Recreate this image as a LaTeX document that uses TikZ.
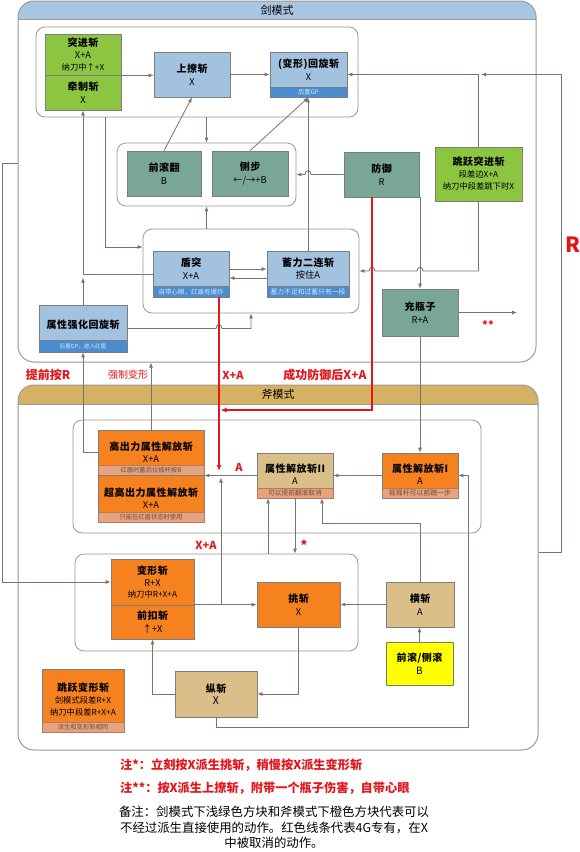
\documentclass[tikz,border=0pt]{standalone}
\usepackage{fontspec}
\setmainfont{Noto Sans CJK SC}
\newfontfamily\titf{Noto Sans CJK SC}[LetterSpace=5]
\usetikzlibrary{arrows.meta}
\definecolor{bluebx}{HTML}{A3C2DF}
\definecolor{bandbc}{HTML}{4A8ED0}
\definecolor{bandbt}{HTML}{D5E6F6}
\definecolor{tealbx}{HTML}{7AA696}
\definecolor{greenbx}{HTML}{8CC540}
\definecolor{orangebx}{HTML}{F6821F}
\definecolor{tanbx}{HTML}{DAC088}
\definecolor{salmon}{HTML}{E6A37E}
\definecolor{salmond}{HTML}{B07B60}
\definecolor{salmont}{HTML}{6E4B3C}
\definecolor{yellowbx}{HTML}{FFFF00}
\definecolor{hdrblue}{HTML}{A8C6E1}
\definecolor{hdrgold}{HTML}{D5B163}
\definecolor{panelc}{HTML}{9E9893}
\definecolor{arrc}{HTML}{7E726E}
\definecolor{redc}{HTML}{E3161B}
\definecolor{bordc}{HTML}{7D7D7D}
\newcommand\tb{\titf\bfseries\fontsize{10}{11}\selectfont}
\newcommand\ts{\fontsize{9.3}{10}\selectfont}
\newcommand\tss{\fontsize{8.3}{9}\selectfont}
\newcommand\mkbox[7]{\node[#2, minimum width={#5-#3}, minimum height={#6-#4}] (#1) at ({(#3+#5)/2},{(#4+#6)/2}) {#7};}
\begin{document}
\begin{tikzpicture}[x=1pt,y=-1pt,
  bx/.style={draw=bordc, line width=0.7pt, inner sep=0pt, align=center, text=black, font=\fontsize{8}{12.5}\selectfont},
  bbox/.style={bx, fill=bluebx},
  tbox/.style={bx, fill=tealbx},
  gbox/.style={bx, fill=greenbx},
  obox/.style={bx, fill=orangebx},
  nbox/.style={bx, fill=tanbx},
  ybox/.style={bx, fill=yellowbx},
  grp/.style={draw=panelc, line width=0.8pt, rounded corners=9pt, inner sep=0pt},
  panel/.style={draw=panelc, line width=1pt, rounded corners=16pt, inner sep=0pt},
  bandb/.style={draw=bordc, line width=0.4pt, fill=bandbc, text=bandbt, inner sep=0pt, font=\fontsize{6.5}{7}\selectfont},
  bands/.style={draw=salmond, line width=0.4pt, fill=salmon, text=salmont, inner sep=0pt, font=\fontsize{6.3}{7}\selectfont},
  txt/.style={inner sep=0pt, align=center, font=\fontsize{8}{12.5}\selectfont},
  arr/.style={draw=arrc, line width=0.8pt, -{Latex[length=5pt,width=4pt]}},
  rarr/.style={draw=redc, line width=1.5pt, -{Latex[length=6pt,width=5pt]}},
  lab/.style={text=redc, inner sep=0pt, font=\bfseries\fontsize{11}{12}\selectfont},
]
\useasboundingbox (0,0) rectangle (580,852);
\fill[white] (0,0) rectangle (580,852);

% ---------- panels ----------
\begin{scope}
\clip[rounded corners=16pt] (18,1) rectangle (536,362);
\fill[hdrblue] (18,1) rectangle (536,19);
\end{scope}
\mkbox{sword}{panel}{18}{1}{536}{362}{}
\draw[panelc, line width=0.8pt] (18,19) -- (536,19);
\node[inner sep=0pt, font=\fontsize{11}{12}\selectfont] (swordt) at (277,10) {剑模式};

\begin{scope}
\clip[rounded corners=16pt] (18,385) rectangle (538,750);
\fill[hdrgold] (18,385) rectangle (538,404);
\end{scope}
\mkbox{axe}{panel}{18}{385}{538}{750}{}
\draw[panelc, line width=0.8pt] (18,404) -- (538,404);
\node[inner sep=0pt, font=\fontsize{11}{12}\selectfont] (axet) at (278,394) {斧模式};

% ---------- groups ----------
\mkbox{g1}{grp}{36}{27}{358}{117}{}
\mkbox{g2}{grp}{117}{143}{296}{206}{}
\mkbox{g3}{grp}{143}{229}{359}{313}{}
\mkbox{g4}{grp}{73}{420}{481}{533}{}
\mkbox{g5}{grp}{75}{554}{358}{651}{}

% ---------- sword boxes ----------
\mkbox{tujin}{gbox,font=\fontsize{8}{12}\selectfont}{45}{34}{121}{75}{{\tb 突进斩}\\{\ts X+A}\\{\tss 纳刀中↑+X}}
\mkbox{qianzhi}{gbox}{45}{75}{121}{110}{{\tb 牵制斩}\\{\ts X}}
\mkbox{shangliao}{bbox}{154}{52}{230}{97}{{\tb 上撩斩}\\{\ts X}}
\mkbox{huixuan}{bbox}{270}{52}{347}{97}{}
\node[txt] (huixuan-t) at (308.5,69.5) {{\tb (变形)回旋斩}\\{\ts X}};
\node[bandb, minimum width=77, minimum height=10, anchor=south, font=\fontsize{6.2}{7}\selectfont] (huixuan-b) at (huixuan.south) {后置GP};
\mkbox{qiangun}{tbox}{127}{151}{201}{196}{{\tb 前滚翻}\\{\ts B}}
\mkbox{cebu}{tbox}{212}{151}{288}{196}{{\tb 侧步}\\{\ts ←/→+B}}
\mkbox{fangyu}{tbox}{344}{152}{419}{197}{{\tb 防御}\\{\ts R}}
\mkbox{tiaoyue}{gbox,font=\fontsize{8}{12}\selectfont}{435}{147}{522}{201}{{\tb 跳跃突进斩}\\{\tss 段差边X+A}\\{\tss 纳刀中段差跳下时X}}
\mkbox{dundu}{bbox}{153}{251}{229}{297}{}
\node[txt] (dundu-t) at (191,268.5) {{\tb 盾突}\\{\ts X+A}};
\node[bandb, minimum width=76, minimum height=11, anchor=south] (dundu-b) at (dundu.south) {自带心眼，红盾有爆炸};
\mkbox{xuli}{bbox}{267}{251}{349}{297}{}
\node[txt] (xuli-t) at (308,268.5) {{\tb 蓄力二连斩}\\{\ts 按住A}};
\node[bandb, minimum width=82, minimum height=11, anchor=south, font=\fontsize{6.8}{7}\selectfont] (xuli-b) at (xuli.south) {蓄力不足和过蓄只有一段};
\mkbox{shuxingqh}{bbox}{39}{305}{127}{352}{}
\node[txt] (shuxingqh-t) at (83,325) {\tb 属性强化回旋斩};
\node[bandb, minimum width=88, minimum height=12, anchor=south, font=\fontsize{5.6}{6}\selectfont] (shuxingqh-b) at (shuxingqh.south) {后置GP，进入红盾};
\mkbox{chongping}{tbox}{382}{289}{458}{336}{{\tb 充瓶子}\\{\ts R+A}}

% ---------- axe boxes ----------
\mkbox{gaochuli}{obox}{98}{430}{204}{475}{}
\node[txt] (gaochuli-t) at (151,452) {{\tb 高出力属性解放斩}\\{\ts X+A}};
\node[bands, minimum width=106, minimum height=10, anchor=south] (gaochuli-b) at (gaochuli.south) {红盾时蓄后拉摇杆按B};
\mkbox{chaogao}{obox}{98}{475}{204}{522}{}
\node[txt] (chaogao-t) at (151,498) {{\tb 超高出力属性解放斩}\\{\ts X+A}};
\node[bands, minimum width=106, minimum height=10, anchor=south] (chaogao-b) at (chaogao.south) {只能在红盾状态时使用};
\mkbox{jiefang2}{nbox}{257}{453}{333}{498}{}
\node[txt] (jiefang2-t) at (295,474) {{\tb 属性解放斩II}\\{\ts A}};
\node[bands, minimum width=76, minimum height=10, anchor=south, font=\fontsize{6.7}{7}\selectfont] (jiefang2-b) at (jiefang2.south) {可以提前翻滚取消};
\mkbox{jiefang1}{obox}{382}{453}{458}{498}{}
\node[txt] (jiefang1-t) at (420,474) {{\tb 属性解放斩I}\\{\ts A}};
\node[bands, minimum width=76, minimum height=10, anchor=south, font=\fontsize{6.9}{7}\selectfont] (jiefang1-b) at (jiefang1.south) {摇摇杆可以前踏一步};
\mkbox{bianxing}{obox,font=\fontsize{8}{12}\selectfont}{111}{559}{194}{605}{{\tb 变形斩}\\{\ts R+X}\\{\tss 纳刀中R+X+A}}
\mkbox{qiankou}{obox}{111}{605}{194}{639}{{\tb 前扣斩}\\{\ts ↑+X}}
\mkbox{tiaozhan}{obox}{257}{582}{340}{627}{{\tb 挑斩}\\{\ts X}}
\mkbox{hengzhan}{nbox}{386}{582}{454}{627}{{\tb 横斩}\\{\ts A}}
\mkbox{gunB}{ybox}{386}{642}{453}{685}{{\tb 前滚/侧滚}\\{\fontsize{10}{10}\selectfont B}}
\mkbox{zongzhan}{nbox}{175}{671}{257}{717}{{\tb 纵斩}\\{\fontsize{10.5}{10}\selectfont X}}
\mkbox{tiaoyuebx}{obox}{42}{669}{124}{732}{}
\node[txt, font=\fontsize{8}{12}\selectfont] (tiaoyuebx-t) at (83,699) {{\tb 跳跃变形斩}\\{\tss 剑模式段差R+X}\\{\tss 纳刀中段差R+X+A}};
\node[bands, minimum width=82, minimum height=10, anchor=south] (tiaoyuebx-b) at (tiaoyuebx.south) {派生和变形斩相同};

% ---------- sword connectors ----------
\draw[arr] (tujin.south east) -- (tujin.south east -| shangliao.west);
\draw[arr] (shangliao.east) -- (huixuan.west);
\draw[arr] (qiangun.north) -- (shangliao.south);
\draw[arr] (cebu.north) -- (huixuan.south);
\draw[arr] (xuli.north) -- (xuli.north |- huixuan.south);
\draw[arr] (g1.south -| g2.north) -- (g2.north);
\draw[arr] (g3.north -| g2.south) -- (g2.south);
\coordinate (p105) at (105,247);
\draw[arr] (g1.south -| p105) -- (p105) -- (p105 -| g3.west);
\draw[arr] (dundu.west) -| (qianzhi.south);
\draw[arr] (shuxingqh.north) -- ([yshift=27pt]shuxingqh.north);
\draw[arr] (shuxingqh.east) -- (216,328.5) .. controls (216,323.5) and (222,323.5) .. (222,328.5) -| (g3.south);
\draw[arr] ([yshift=5pt]dundu.east) -- ([yshift=5pt]dundu.east -| xuli.west);
\draw[arr] ([yshift=-4pt]xuli.west) -- ([yshift=-4pt]xuli.west -| dundu.east);
\draw[arr] (fangyu.west) -- (311,174.5) .. controls (311,169.5) and (305,169.5) .. (305,174.5) -- (g2.east);
\draw[arr] (chongping.north |- fangyu.south) -- (chongping.north);
\draw[arr] (tiaoyue.south) -- (478.5,271) -- (423,271) .. controls (423,266) and (417,266) .. (417,271) -- (375,271) .. controls (375,266) and (369,266) .. (369,271) -- (g3.east);
\coordinate (p517) at (517,312.5);
\draw[arr] (chongping.east) -- (p517);
\draw[arr] (chongping.south) -- (jiefang1.north);
\coordinate (pR1) at (561,552);
\coordinate (pR2) at (481,74.5);
\draw[arr] (axe.east |- pR1) -- (pR1) -- (pR1 |- huixuan.east) -- (pR2);
\draw[arr] (tiaoyue.north) |- (huixuan.east);
\coordinate (pL1) at (2,163);
\draw[arr] (sword.west |- pL1) -- (pL1) |- (bianxing.west);
\draw[arr] (gaochuli.west) -| (shuxingqh.south);
\draw[arr] (gaochuli.north) -- (gaochuli.north |- sword.south);

% ---------- axe connectors ----------
\draw[arr] (jiefang1.west) -- (jiefang2.east);
\draw[arr] (jiefang2.west) -- (jiefang2.west -| gaochuli.east);
\draw[arr] (qiankou.north east) -- (qiankou.north east -| tiaozhan.west);
\coordinate (pj) at (221,604.5);
\coordinate (pj2) at (221,477.5);
\draw[arr] (pj) -- (pj2);
\coordinate (p295) at (295,0);
\draw[arr] (jiefang2.south -| p295) -- (p295 |- g5.north);
\coordinate (p268) at (268,0);
\draw[arr] (g5.north -| p268) -- (jiefang2.south -| p268);
\coordinate (p322) at (322,523);
\draw[arr] (hengzhan.north) |- (p322) -- (p322 |- jiefang2.south);
\coordinate (pb1) at (216,727);
\coordinate (pb2) at (468,727);
\draw[arr] (zongzhan.south) -- (pb1) -- (pb2) |- (jiefang1.east);
\draw[arr] (hengzhan.west) -- (tiaozhan.east);
\draw[arr] (gunB.north) -- (gunB.north |- hengzhan.south);
\draw[arr] (zongzhan.west) -| (qiankou.south);
\draw[arr] (tiaozhan.south) |- (zongzhan.east);

% ---------- red connectors ----------
\coordinate (r1) at (372,410);
\coordinate (r2) at (220.5,410);
\draw[rarr] (fangyu.south -| r1) -- (r1) -- (r2);
\coordinate (r3) at (219,471);
\draw[rarr] (dundu.south -| r3) -- (r3);

% ---------- labels ----------
\node[lab, font=\bfseries\fontsize{21}{22}\selectfont] (labR) at (573,245) {R};
\node[lab] (labstar2) at (488,325) {**};
\node[lab, font=\bfseries\fontsize{12}{13}\selectfont] (labtq) at (48,375) {提前按R};
\node[lab, font=\fontsize{10}{11}\selectfont] (labqz) at (128,375) {强制变形};
\node[lab] (labxa1) at (233,375) {X+A};
\node[lab, font=\bfseries\fontsize{12}{13}\selectfont] (labcg) at (325,375) {成功防御后X+A};
\node[lab] (labA) at (239,467) {A};
\node[lab] (labxa2) at (206,545) {X+A};
\node[lab, font=\bfseries\fontsize{13}{13}\selectfont] (labstar1) at (304,545) {*};

% ---------- notes ----------
\node[lab, anchor=west, font=\bfseries\fontsize{12.2}{13}\selectfont] (note1) at (120,765) {注*：立刻按X派生挑斩，稍慢按X派生变形斩};
\node[lab, anchor=west, font=\bfseries\fontsize{12.2}{13}\selectfont] (note2) at (120,788) {注**：按X派生上撩斩，附带一个瓶子伤害，自带心眼};
\node[inner sep=0pt, font=\fontsize{12.4}{13}\selectfont] (note3) at (274,812) {备注：剑模式下浅绿色方块和斧模式下橙色方块代表可以};
\node[inner sep=0pt, font=\fontsize{12.4}{13}\selectfont] (note4) at (274,828) {不经过派生直接使用的动作。红色线条代表4G专有，在X};
\node[inner sep=0pt, font=\fontsize{12.4}{13}\selectfont] (note5) at (274,843) {中被取消的动作。};
\end{tikzpicture}
\end{document}
